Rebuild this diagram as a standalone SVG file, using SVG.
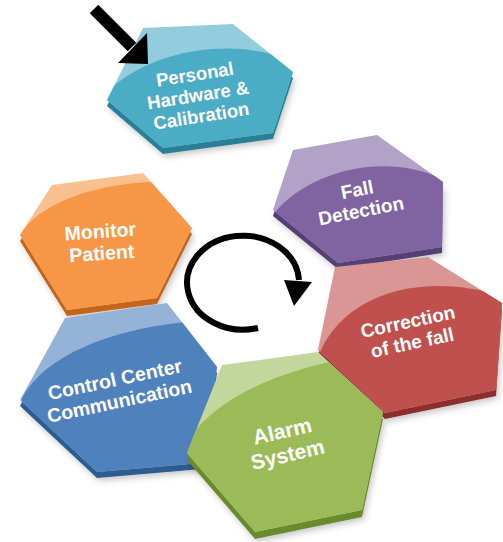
<svg xmlns="http://www.w3.org/2000/svg" width="503" height="542" viewBox="0 0 503 542">
<style>
.lbl{font-family:"Liberation Sans",Arial,sans-serif;font-weight:bold;fill:#ffffff;text-anchor:middle}
</style>
<defs>
<filter id="sh" x="-20%" y="-20%" width="140%" height="140%"><feDropShadow dx="2" dy="3" stdDeviation="3" flood-color="#000" flood-opacity="0.22"/></filter>
<clipPath id="c1"><polygon points="143,28 233,24 293,72 273,133 163,148 107,100"/></clipPath>
<clipPath id="c2"><polygon points="293,150 377,135 443,182 442,247 338,263 273,210"/></clipPath>
<clipPath id="c3"><polygon points="335,267 428,257 502,303 496,390 385,413 318,350"/></clipPath>
<clipPath id="c4"><polygon points="222,365 318,352 383,412 362,510 255,532 187,453"/></clipPath>
<clipPath id="c5"><polygon points="65,318 167,303 217,367 202,463 97,472 20,400"/></clipPath>
<clipPath id="c6"><polygon points="52,185 143,173 192,228 157,298 67,310 20,235"/></clipPath>
</defs>

<g id="node-personal">
<g filter="url(#sh)"><polygon fill="#2c7f96" transform="translate(0,6)" points="143,28 233,24 293,72 273,133 163,148 107,100"/></g>
<polygon fill="#93cddd" points="143,28 233,24 293,72 273,133 163,148 107,100"/>
<path fill="#4bacc6" clip-path="url(#c1)" d="M100,100 C135,55 230,30 300,65 L310,170 L90,170 Z"/>
<g transform="translate(198,95) rotate(-9)">
<text class="lbl" font-size="18.5" x="0" y="-14.5">Personal</text>
<text class="lbl" font-size="18.5" x="0" y="6.5">Hardware &amp;</text>
<text class="lbl" font-size="18.5" x="0" y="27.5">Calibration</text>
</g>
</g>

<g id="node-fall">
<g filter="url(#sh)"><polygon fill="#553f74" transform="translate(0,6)" points="293,150 377,135 443,182 442,247 338,263 273,210"/></g>
<polygon fill="#b3a2c7" points="293,150 377,135 443,182 442,247 338,263 273,210"/>
<path fill="#8064a2" clip-path="url(#c2)" d="M275,212 C310,170 390,150 448,182 L450,280 L260,280 Z"/>
<g transform="translate(359,200) rotate(-11)">
<text class="lbl" font-size="19" x="0" y="-4">Fall</text>
<text class="lbl" font-size="19" x="0" y="17.5">Detection</text>
</g>
</g>

<g id="node-correction">
<g filter="url(#sh)"><polygon fill="#8c2f2d" transform="translate(0,6)" points="335,267 428,257 502,303 496,390 385,413 318,350"/></g>
<polygon fill="#d99694" points="335,267 428,257 502,303 496,390 385,413 318,350"/>
<path fill="#c0504d" clip-path="url(#c3)" d="M320,352 C345,295 420,270 505,297 L505,430 L310,430 Z"/>
<g transform="translate(410,332) rotate(-12)">
<text class="lbl" font-size="19" x="0" y="-4">Correction</text>
<text class="lbl" font-size="19" x="0" y="17.5">of the fall</text>
</g>
</g>

<g id="node-monitor">
<g filter="url(#sh)"><polygon fill="#c4651a" transform="translate(0,6)" points="52,185 143,173 192,228 157,298 67,310 20,235"/></g>
<polygon fill="#fac08f" points="52,185 143,173 192,228 157,298 67,310 20,235"/>
<path fill="#f79646" clip-path="url(#c6)" d="M18,238 C35,205 90,185 150,182 L200,182 L200,320 L10,320 Z"/>
<g transform="translate(101,242) rotate(-4)">
<text class="lbl" font-size="19.5" x="0" y="-4">Monitor</text>
<text class="lbl" font-size="19.5" x="0" y="18">Patient</text>
</g>
</g>

<g id="node-control">
<g filter="url(#sh)"><polygon fill="#2f5b8f" transform="translate(0,6)" points="65,318 167,303 217,367 202,463 97,472 20,400"/></g>
<polygon fill="#95b3d7" points="65,318 167,303 217,367 202,463 97,472 20,400"/>
<path fill="#4f81bd" clip-path="url(#c5)" d="M22,398 C45,355 110,330 185,322 L225,322 L225,480 L10,480 Z"/>
<g transform="translate(117,390) rotate(-12)">
<text class="lbl" font-size="19.5" x="0" y="-4">Control Center</text>
<text class="lbl" font-size="19.5" x="0" y="18">Communication</text>
</g>
</g>

<g id="node-alarm">
<g filter="url(#sh)"><polygon fill="#6b8a2e" transform="translate(0,7)" points="222,365 318,352 383,412 362,510 255,532 187,453"/></g>
<polygon fill="#c3d69b" points="222,365 318,352 383,412 362,510 255,532 187,453"/>
<path fill="#9bbb59" clip-path="url(#c4)" d="M188,440 C215,400 270,375 330,362 L390,362 L390,540 L180,540 Z"/>
<g transform="translate(285,443) rotate(-13)">
<text class="lbl" font-size="21" x="0" y="-5">Alarm</text>
<text class="lbl" font-size="21" x="0" y="19">System</text>
</g>
</g>

<g id="connectors">
<path d="M258,328 A56,47 0 1 1 299,280" fill="none" stroke="#000" stroke-width="6"/>
<polygon points="284,280 312,282 294,306" fill="#000"/>
<line x1="94" y1="9" x2="132" y2="47" stroke="#000" stroke-width="12"/>
<polygon points="118,63 147,33 148,64" fill="#000"/>
</g>
</svg>
